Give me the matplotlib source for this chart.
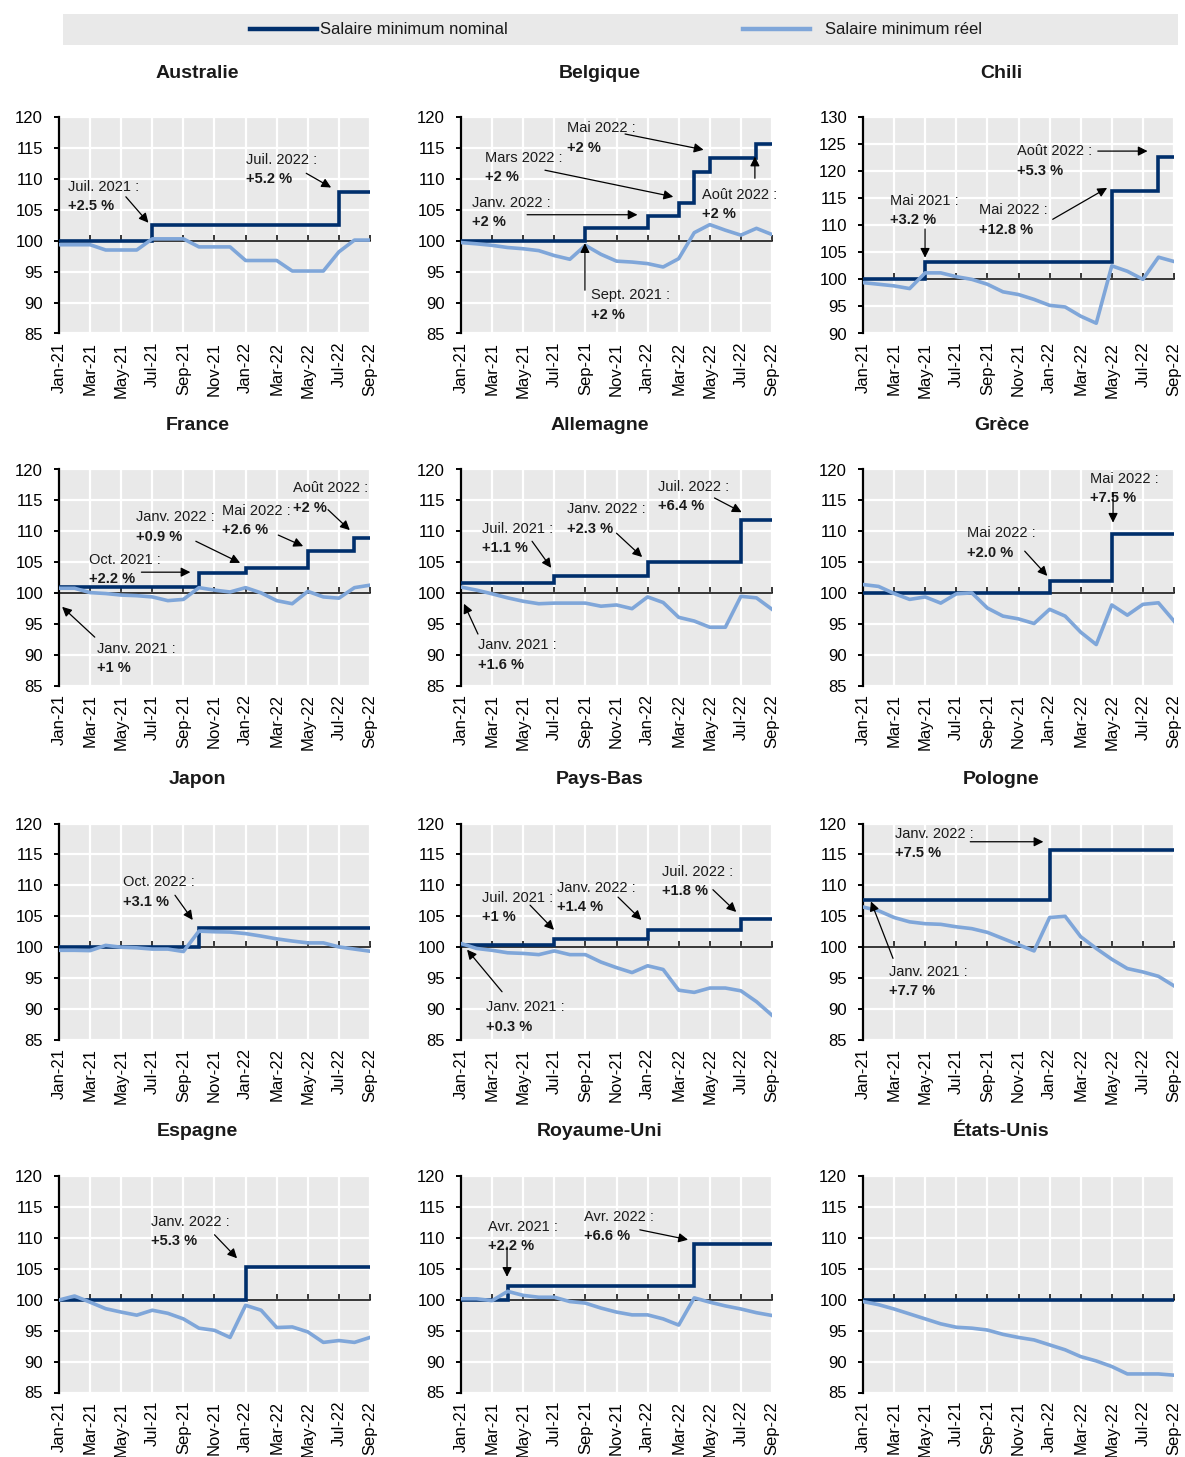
import matplotlib
matplotlib.use("Agg")
import matplotlib.pyplot as plt
from matplotlib.patches import Rectangle
from matplotlib.lines import Line2D

# ---------------------------------------------------------------- data
MONTHS = ["Jan-21", "Feb-21", "Mar-21", "Apr-21", "May-21", "Jun-21", "Jul-21",
          "Aug-21", "Sep-21", "Oct-21", "Nov-21", "Dec-21", "Jan-22", "Feb-22",
          "Mar-22", "Apr-22", "May-22", "Jun-22", "Jul-22", "Aug-22", "Sep-22"]

# real minimum wage index (Dec-2020 = 100)
AUS_REAL = [99.35, 99.35, 99.35, 98.5, 98.5, 98.5, 100.3, 100.3, 100.3, 99.0, 99.0,
            99.0, 96.8, 96.8, 96.8, 95.1, 95.1, 95.1, 98.2, 100.1, 100.1]
BEL_REAL = [99.7, 99.5, 99.25, 98.9, 98.7, 98.4, 97.6, 97.0, 99.25, 97.8, 96.7,
            96.55, 96.3, 95.75, 97.1, 101.3, 102.6, 101.7, 100.9, 102.0, 101.0]
CHL_REAL = [99.4, 99.1, 98.8, 98.3, 101.2, 101.2, 100.5, 100.0, 99.1, 97.7, 97.2,
            96.3, 95.2, 94.9, 93.2, 91.9, 102.5, 101.5, 100.0, 104.1, 103.3]
FRA_REAL = [100.8, 100.8, 100.1, 99.95, 99.7, 99.6, 99.4, 98.8, 99.0, 100.9, 100.5,
            100.2, 100.9, 100.05, 98.8, 98.3, 100.3, 99.4, 99.2, 100.9, 101.3]
DEU_REAL = [101.0, 100.5, 99.9, 99.25, 98.7, 98.3, 98.4, 98.4, 98.4, 97.9, 98.1,
            97.5, 99.4, 98.5, 96.1, 95.5, 94.5, 94.5, 99.5, 99.25, 97.4]
GRC_REAL = [101.4, 101.1, 99.95, 99.0, 99.4, 98.4, 99.9, 100.05, 97.6, 96.3, 95.85,
            95.1, 97.4, 96.3, 93.7, 91.7, 98.1, 96.45, 98.2, 98.45, 95.5]
JPN_REAL = [99.5, 99.5, 99.45, 100.3, 100.0, 99.9, 99.7, 99.7, 99.3, 102.6, 102.5,
            102.45, 102.2, 101.8, 101.35, 101.0, 100.7, 100.7, 100.05, 99.7, 99.35]
NLD_REAL = [100.6, 99.8, 99.5, 99.1, 99.0, 98.8, 99.4, 98.8, 98.8, 97.6, 96.7,
            95.9, 97.0, 96.4, 93.05, 92.7, 93.4, 93.4, 92.95, 91.2, 89.0]
POL_REAL = [106.5, 105.9, 104.8, 104.1, 103.8, 103.7, 103.3, 103.0, 102.4, 101.4, 100.4,
            99.4, 104.8, 105.0, 101.7, 99.8, 98.05, 96.55, 96.0, 95.3, 93.75]
ESP_REAL = [99.95, 100.6, 99.6, 98.55, 98.0, 97.5, 98.3, 97.8, 96.9, 95.4, 95.05,
            93.9, 99.1, 98.3, 95.5, 95.6, 94.8, 93.1, 93.4, 93.1, 93.9]
GBR_REAL = [100.15, 100.15, 99.85, 101.35, 100.7, 100.4, 100.4, 99.7, 99.45, 98.65, 98.0,
            97.55, 97.55, 96.9, 95.9, 100.3, 99.6, 99.0, 98.5, 97.9, 97.45]
USA_REAL = [99.7, 99.2, 98.5, 97.7, 96.9, 96.1, 95.55, 95.4, 95.1, 94.4, 93.9,
            93.5, 92.7, 91.9, 90.8, 90.1, 89.2, 88.0, 88.0, 88.0, 87.8]

# nominal minimum wage increases: (month, % increase)
AUS_RISES = [("Jul-21", "2.5"), ("Jul-22", "5.2")]
BEL_RISES = [("Sep-21", "2"), ("Jan-22", "2"), ("Mar-22", "2"), ("Apr-22", "4.7"),
             ("May-22", "2"), ("Aug-22", "2")]
CHL_RISES = [("May-21", "3.2"), ("May-22", "12.8"), ("Aug-22", "5.3")]
FRA_RISES = [("Jan-21", "1"), ("Oct-21", "2.2"), ("Jan-22", "0.9"), ("May-22", "2.6"),
             ("Aug-22", "2")]
DEU_RISES = [("Jan-21", "1.6"), ("Jul-21", "1.1"), ("Jan-22", "2.3"), ("Jul-22", "6.4")]
GRC_RISES = [("Jan-22", "2.0"), ("May-22", "7.5")]
JPN_RISES = [("Oct-21", "3.1")]
NLD_RISES = [("Jan-21", "0.3"), ("Jul-21", "1"), ("Jan-22", "1.4"), ("Jul-22", "1.8")]
POL_RISES = [("Jan-21", "7.7"), ("Jan-22", "7.5")]
ESP_RISES = [("Jan-22", "5.3")]
GBR_RISES = [("Apr-21", "2.2"), ("Apr-22", "6.6")]
USA_RISES = []

# callouts: (label, index into the rises list, text anchor, arrow tail, arrow head)
AUS_NOTES = [("Juil. 2021 :", 0, (0.58, 108.7), (4.3, 107.1), (5.75, 102.9)),
             ("Juil. 2022 :", 1, (12.0, 113.05), (15.9, 110.9), (17.5, 108.6))]
BEL_NOTES = [("Mai 2022 :", 4, (6.8, 118.2), (10.55, 117.25), (15.6, 114.7)),
             ("Mars 2022 :", 2, (1.55, 113.4), (5.4, 111.4), (13.65, 107.1)),
             ("Janv. 2022 :", 1, (0.7, 106.1), (4.25, 104.2), (11.35, 104.2)),
             ("Août 2022 :", 5, (15.5, 107.4), (18.9, 110.1), (18.9, 113.6)),
             ("Sept. 2021 :", 0, (8.36, 91.2), (7.97, 92.0), (7.97, 99.6))]
CHL_NOTES = [("Août 2022 :", 2, (9.9, 123.7), (15.1, 123.7), (18.3, 123.7)),
             ("Mai 2021 :", 0, (1.74, 114.5), (3.99, 109.3), (3.99, 104.0)),
             ("Mai 2022 :", 1, (7.46, 112.8), (12.2, 111.1), (15.7, 116.9))]
FRA_NOTES = [("Août 2022 :", 4, (15.05, 117.0), (17.3, 113.5), (18.7, 110.2)),
             ("Janv. 2022 :", 2, (4.95, 112.3), (8.8, 108.4), (11.65, 104.9)),
             ("Mai 2022 :", 3, (10.5, 113.3), (14.1, 109.4), (15.7, 107.6)),
             ("Oct. 2021 :", 1, (1.93, 105.4), (5.3, 103.4), (8.45, 103.4)),
             ("Janv. 2021 :", 0, (2.44, 91.0), (2.3, 92.9), (0.2, 97.8))]
DEU_NOTES = [("Juil. 2022 :", 3, (12.67, 117.2), (16.3, 115.4), (18.05, 113.1)),
             ("Janv. 2022 :", 2, (6.82, 113.6), (10.0, 109.7), (11.65, 105.85)),
             ("Juil. 2021 :", 1, (1.35, 110.4), (4.57, 108.4), (5.8, 104.1)),
             ("Janv. 2021 :", 0, (1.09, 91.6), (1.09, 93.4), (0.19, 98.3))]
GRC_NOTES = [("Mai 2022 :", 1, (14.6, 118.5), (16.08, 116.2), (16.08, 111.4)),
             ("Mai 2022 :", 0, (6.69, 109.7), (10.4, 106.8), (11.85, 102.8))]
JPN_NOTES = [("Oct. 2022 :", 0, (4.12, 110.5), (7.46, 108.4), (8.6, 104.4))]
NLD_NOTES = [("Juil. 2022 :", 3, (12.93, 112.2), (16.2, 109.3), (17.7, 105.7)),
             ("Janv. 2022 :", 2, (6.17, 109.6), (10.1, 108.1), (11.6, 104.4)),
             ("Juil. 2021 :", 1, (1.35, 108.0), (4.44, 106.8), (5.98, 102.8)),
             ("Janv. 2021 :", 0, (1.6, 90.3), (2.64, 92.8), (0.39, 99.6))]
POL_NOTES = [("Janv. 2022 :", 1, (2.06, 118.3), (6.9, 117.05), (11.6, 117.05)),
             ("Janv. 2021 :", 0, (1.67, 96.0), (1.93, 98.2), (0.51, 107.4))]
ESP_NOTES = [("Janv. 2022 :", 0, (5.92, 112.6), (10.0, 110.5), (11.45, 106.7))]
GBR_NOTES = [("Avr. 2022 :", 1, (7.91, 113.4), (11.5, 111.3), (14.6, 109.7)),
             ("Avr. 2021 :", 0, (1.74, 111.75), (2.96, 108.5), (2.96, 103.7))]
USA_NOTES = []

PANELS = [
    ("Australie", AUS_REAL, AUS_RISES, AUS_NOTES, (85, 120)),
    ("Belgique", BEL_REAL, BEL_RISES, BEL_NOTES, (85, 120)),
    ("Chili", CHL_REAL, CHL_RISES, CHL_NOTES, (90, 130)),
    ("France", FRA_REAL, FRA_RISES, FRA_NOTES, (85, 120)),
    ("Allemagne", DEU_REAL, DEU_RISES, DEU_NOTES, (85, 120)),
    ("Grèce", GRC_REAL, GRC_RISES, GRC_NOTES, (85, 120)),
    ("Japon", JPN_REAL, JPN_RISES, JPN_NOTES, (85, 120)),
    ("Pays-Bas", NLD_REAL, NLD_RISES, NLD_NOTES, (85, 120)),
    ("Pologne", POL_REAL, POL_RISES, POL_NOTES, (85, 120)),
    ("Espagne", ESP_REAL, ESP_RISES, ESP_NOTES, (85, 120)),
    ("Royaume-Uni", GBR_REAL, GBR_RISES, GBR_NOTES, (85, 120)),
    ("États-Unis", USA_REAL, USA_RISES, USA_NOTES, (85, 120)),
]

LEGEND_LABELS = ["Salaire minimum nominal", "Salaire minimum réel"]

# ---------------------------------------------------------------- style
NAVY = "#002f6c"
LIGHT = "#7fa6d9"
PANEL_BG = "#e9e9e9"

plt.rcParams["font.family"] = ["Liberation Sans", "DejaVu Sans"]
plt.rcParams["text.color"] = "#1a1a1a"

TICK_FS = 12
NOTE_FS = 10.5
TITLE_FS = 14
LEGEND_FS = 12

W, H = 1185, 1457
fig = plt.figure(figsize=(W / 100, H / 100), dpi=100)

COL_LEFT = [59, 461, 863]
ROW_TOP = [117, 469.5, 823.5, 1176]
AX_W, AX_H = 311, 216.5


def nominal_index(rises):
    steps = {}
    for month, pct in rises:
        steps.setdefault(MONTHS.index(month), []).append(float(pct))
    level, out = 100.0, []
    for i in range(len(MONTHS)):
        for p in steps.get(i, []):
            level *= 1 + p / 100
        out.append(level)
    return out


x = list(range(len(MONTHS)))
tick_pos = x[::2]
tick_lab = MONTHS[::2]

for k, (title, real, rises, notes, ylim) in enumerate(PANELS):
    r, c = divmod(k, 3)
    L, T = COL_LEFT[c], ROW_TOP[r]
    ax = fig.add_axes([L / W, 1 - (T + AX_H) / H, AX_W / W, AX_H / H])
    ax.set_facecolor(PANEL_BG)
    ax.set_axisbelow(True)
    ax.set_xlim(0, len(MONTHS) - 1)
    ax.set_ylim(*ylim)
    ax.set_yticks(range(ylim[0], ylim[1] + 1, 5))
    ax.set_xticks(tick_pos)
    ax.grid(True, color="white", lw=1.6)
    for s in ("top", "right"):
        ax.spines[s].set_visible(False)
    ax.spines["left"].set_linewidth(1.6)
    ax.spines["bottom"].set_position(("data", 100))
    ax.spines["bottom"].set_linewidth(1.1)
    ax.tick_params(axis="x", direction="in", length=4, width=1.1, labelbottom=False)
    ax.tick_params(axis="y", direction="out", length=3.5, width=1.4,
                   labelsize=TICK_FS, pad=8)

    sec = ax.secondary_xaxis("bottom")
    sec.set_xticks(tick_pos, tick_lab)
    sec.tick_params(length=0, pad=6, labelsize=TICK_FS, labelrotation=90)
    sec.spines["bottom"].set_visible(False)

    nom = nominal_index(rises)
    ax.plot(x, nom, color=NAVY, lw=2.6, drawstyle="steps-post", zorder=3,
            solid_joinstyle="miter")
    ax.plot(x, real, color=LIGHT, lw=2.6, zorder=4, solid_joinstyle="round")

    for label, ri, (tx, ty), tail, head in notes:
        pct = rises[ri][1]
        ax.text(tx, ty, label, fontsize=NOTE_FS, ha="left", va="center", zorder=6)
        ax.annotate(f"+{pct} %", xy=(tx, ty), xytext=(0, -14), textcoords="offset points",
                    fontsize=NOTE_FS, fontweight="bold", ha="left", va="center",
                    annotation_clip=False, zorder=6)
        ax.annotate("", xy=head, xytext=tail, annotation_clip=False, zorder=6,
                    arrowprops=dict(arrowstyle="-|>", color="black", lw=0.9,
                                    mutation_scale=14, shrinkA=0, shrinkB=0))

    fig.text((L + AX_W / 2 - 17) / W, 1 - (T - 44) / H, title, fontsize=TITLE_FS,
             fontweight="bold", ha="center", va="center")

# legend band
fig.patches.append(Rectangle((63 / W, 1 - 45 / H), (1178 - 63) / W, 31 / H,
                             transform=fig.transFigure, facecolor=PANEL_BG,
                             edgecolor="none", zorder=0))
ly = 1 - 29 / H
fig.lines.append(Line2D([250 / W, 317 / W], [ly, ly], transform=fig.transFigure,
                        color=NAVY, lw=3.2))
fig.lines.append(Line2D([743 / W, 810 / W], [ly, ly], transform=fig.transFigure,
                        color=LIGHT, lw=3.2))
fig.text(320 / W, ly, LEGEND_LABELS[0], fontsize=LEGEND_FS, ha="left", va="center")
fig.text(825 / W, ly, LEGEND_LABELS[1], fontsize=LEGEND_FS, ha="left", va="center")

fig.savefig("out.png", dpi=100)
